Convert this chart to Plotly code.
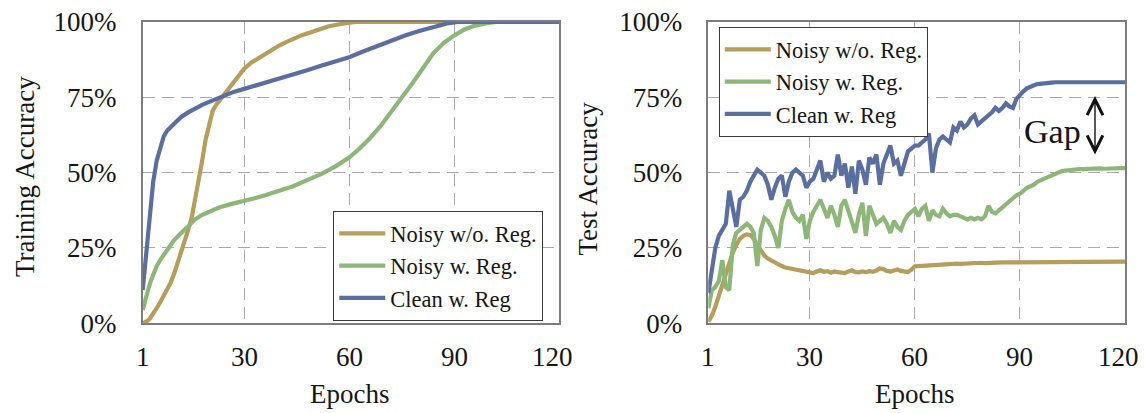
import plotly.graph_objects as go

# ---------------- data ----------------
series_names = ["Noisy w/o. Reg.", "Noisy w. Reg.", "Clean w. Reg"]
series_colors = ["#B59D5C", "#8DB679", "#5B6EA0"]

x_ticks = [1, 30, 60, 90, 120]
x_tick_labels = ["1", "30", "60", "90", "120"]
y_ticks = [0, 25, 50, 75, 100]
y_tick_labels = ["0%", "25%", "50%", "75%", "100%"]

# Training accuracy (left)
train_noisy_noreg_epochs = [1, 2, 3, 4, 5, 6, 7, 8, 9, 10, 11, 12, 13, 14, 15, 16, 17, 18, 19, 20,
                            21, 22, 23, 24, 25, 26, 27, 28, 30, 32, 34, 36, 38, 40, 42, 44, 46, 48,
                            50, 52, 54, 56, 58, 60, 62, 120]
train_noisy_noreg = [0, 0.5, 1.5, 3, 5, 7, 9, 11, 13.5, 16.5, 20, 23, 27, 31, 35, 41, 47, 54, 61, 66,
                     70.5, 72.5, 74, 75.5, 77.5, 79, 80.5, 82, 84.5, 86.5, 88, 89.5, 90.8, 92.2, 93.3,
                     94.4, 95.4, 96.2, 97, 97.7, 98.5, 99, 99.5, 99.8, 100, 100]

train_noisy_reg_epochs = [1, 2, 3, 4, 5, 6, 8, 10, 12, 14, 16, 18, 20, 23, 27, 30, 33, 36, 40, 44,
                          48, 52, 56, 60, 63, 66, 69, 72, 75, 78, 81, 84, 87, 90, 93, 96, 99, 102, 120]
train_noisy_reg = [4.4, 9, 13, 16, 19, 21, 24.5, 27.6, 30, 32.5, 34.5, 36, 37, 38.5, 39.8, 40.5, 41.5,
                   42.5, 44, 45.5, 47.5, 49.5, 52, 55, 58, 61.5, 65.5, 70, 74.5, 79.5, 84.5, 89.5, 93,
                   95.5, 97.5, 98.8, 99.5, 100, 100]

train_clean_reg_epochs = [1, 2, 3, 4, 5, 6, 7, 8, 10, 12, 14, 16, 18, 20, 22, 24, 27, 30, 33, 36, 40,
                          44, 48, 52, 56, 60, 64, 68, 72, 76, 80, 84, 88, 91, 120]
train_clean_reg = [11, 24, 37, 47, 54, 58.5, 62, 64, 66.5, 68.5, 70, 71.3, 72.5, 73.5, 74.5, 75.5,
                   76.8, 77.8, 78.8, 80, 81.3, 82.8, 84, 85.5, 86.8, 88.3, 90.2, 92, 93.8, 95.5, 97,
                   98.3, 99.5, 100, 100]

# Test accuracy (right), one value per epoch 1..120
test_epochs = list(range(1, 121))
test_noisy_noreg = [
    0.5, 2.5, 5.5, 9, 13, 17, 20.5, 23.5, 26, 28,
    29, 29.5, 29.3, 28, 26, 24, 22.5, 21.5, 20.8, 20,
    19.5, 19, 18.5, 18.3, 18.2, 17.9, 17.7, 17.5, 17.3, 17.0,
    16.7, 17.2, 17.6, 17.1, 17.3, 16.8, 17.2, 17.0, 16.8, 16.7,
    17.2, 17.6, 17.0, 16.9, 17.2, 17.0, 17.3, 17.1, 17.5, 18.2,
    18.0, 17.4, 17.2, 17.6, 17.9, 17.4, 17.3, 17.0, 17.8, 18.9,
    19.0, 19.1, 19.2, 19.3, 19.3, 19.4, 19.5, 19.5, 19.6, 19.6,
    19.7, 19.8, 19.7, 19.8, 19.9, 19.9, 20.0, 20.0, 20.1, 20.0,
    20.1, 20.1, 20.2, 20.1, 20.2, 20.2, 20.2, 20.3, 20.2, 20.3,
    20.3, 20.3, 20.3, 20.4, 20.3, 20.4, 20.4, 20.4, 20.4, 20.4,
    20.4, 20.4, 20.5, 20.4, 20.4, 20.5, 20.4, 20.5, 20.5, 20.4,
    20.5, 20.5, 20.5, 20.5, 20.5, 20.5, 20.5, 20.5, 20.5, 20.5,
]
test_noisy_reg = [
    5, 11, 12, 14, 21, 12, 11, 26, 30, 31,
    32, 33, 32, 30, 19, 31, 35, 34, 32, 29,
    25, 34, 38, 41, 37, 35, 34, 36, 28, 34,
    37, 39, 41, 38, 35, 39, 36, 32, 39, 41,
    37, 34, 30, 36, 40, 29, 39, 36, 33, 34,
    35, 33, 30, 34, 32, 31, 34, 36, 37, 38,
    35.5, 38, 39, 34, 37.5, 36, 35.5, 38, 36.5, 35.5,
    36, 36, 35.5, 35, 34.5, 35, 34.5, 35, 34.5, 35.5,
    39, 37, 36.5, 37.5, 38.5, 39.5, 40.5, 41.5, 42.5, 43,
    44, 45, 45.5, 46, 47, 47.5, 48.3, 48.8, 49.3, 49.8,
    50.2, 50.5, 50.7, 50.9, 51, 51.1, 51.2, 51.2, 51.3, 51.2,
    51.3, 51.3, 51.4, 51.3, 51.4, 51.4, 51.5, 51.4, 51.5, 51.5,
]
test_clean_reg = [
    10, 17, 25, 29, 31, 33, 44, 38, 32, 41,
    42, 44, 47, 49, 51, 50, 49, 46, 41, 45,
    48, 49, 42, 47, 50, 51, 50, 49, 45, 47,
    48, 51, 54, 47, 50, 48, 49, 56, 49, 53,
    45, 52, 43, 54, 51, 46, 55, 53, 56, 46,
    53, 56, 59, 53, 54, 49, 53, 57, 58, 59,
    59, 60, 61, 63, 50, 58, 61, 62, 61, 60,
    65, 64, 67, 65, 66, 68, 69, 66, 67, 68,
    69, 70, 71.5, 70.5, 71.5, 73, 72, 71.5, 74.5, 76,
    77, 78, 78.7, 79, 79.4, 79.6, 79.7, 79.8, 79.9, 80,
    80, 79.9, 80, 80.1, 80, 79.9, 80, 80, 80.1, 80,
    79.9, 80, 80, 80, 79.9, 80, 80, 80, 80, 80,
]

# ---------------- figure ----------------
W, H = 1144, 413
FONT = "Liberation Serif, Times New Roman, serif"
TXT = "#151515"

def px_x(p):
    return p / W

def px_y(p):
    return 1 - p / H

fig = go.Figure()

train_sets = [
    (train_noisy_noreg_epochs, train_noisy_noreg),
    (train_noisy_reg_epochs, train_noisy_reg),
    (train_clean_reg_epochs, train_clean_reg),
]
test_sets = [test_noisy_noreg, test_noisy_reg, test_clean_reg]

for name, color, (ex, ey) in zip(series_names, series_colors, train_sets):
    fig.add_trace(go.Scatter(x=ex, y=ey, mode="lines", name=name,
                             line=dict(color=color, width=4.2),
                             xaxis="x", yaxis="y", legend="legend"))
for name, color, ey in zip(series_names, series_colors, test_sets):
    fig.add_trace(go.Scatter(x=test_epochs, y=ey, mode="lines", name=name,
                             line=dict(color=color, width=4.2),
                             xaxis="x2", yaxis="y2", legend="legend2"))

grid = dict(showgrid=True, gridcolor="#a9a9a9", gridwidth=1.2, griddash="12px,7px",
            showline=True, linecolor="#7d7d7d", linewidth=1.5, mirror=True,
            zeroline=False, ticks="", automargin=False,
            tickfont=dict(family=FONT, size=27, color=TXT))

xdom1 = [px_x(142.7), px_x(559)]
xdom2 = [px_x(708.3), px_x(1125)]
ydom = [px_y(323.3), px_y(22)]

xcommon = dict(range=[1, 120], tickvals=x_ticks, ticktext=x_tick_labels,
               showticklabels=False, **grid)
ycommon = dict(range=[0, 100], tickvals=y_ticks, ticktext=y_tick_labels,
               ticklabelstandoff=19, **grid)

legend_common = dict(xanchor="left", yanchor="top", bgcolor="white",
                     bordercolor="#3a3a3a", borderwidth=1.3,
                     font=dict(family=FONT, size=22.5, color=TXT),
                     itemwidth=46, tracegroupgap=0)

fig.update_layout(
    template="none",
    width=W, height=H,
    margin=dict(l=0, r=0, t=0, b=0, autoexpand=False),
    paper_bgcolor="white", plot_bgcolor="white",
    showlegend=True,
    xaxis=dict(domain=xdom1, anchor="y", **xcommon),
    yaxis=dict(domain=ydom, anchor="x", **ycommon),
    xaxis2=dict(domain=xdom2, anchor="y2", **xcommon),
    yaxis2=dict(domain=ydom, anchor="x2", **ycommon),
    legend=dict(x=px_x(333), y=px_y(211), **legend_common),
    legend2=dict(x=px_x(718.5), y=px_y(27), **legend_common),
)

# x tick labels placed as text on each axis's own scale
for xref in ("x", "x2"):
    for val, lab in zip(x_ticks, x_tick_labels):
        fig.add_annotation(xref=xref, yref="paper", x=val, y=px_y(357),
                           text=lab, showarrow=False, xanchor="center", yanchor="middle",
                           xshift=(-7 if val == x_ticks[-1] else 0),
                           font=dict(family=FONT, size=27, color=TXT))

annotations = [
    dict(text="Training Accuracy", x=px_x(25), y=px_y(177), textangle=-90),
    dict(text="Test Accuracy", x=px_x(588), y=px_y(178.5), textangle=-90),
    dict(text="Epochs", x=px_x(349), y=px_y(394)),
    dict(text="Epochs", x=px_x(914), y=px_y(394)),
]
for a in annotations:
    fig.add_annotation(xref="paper", yref="paper", showarrow=False,
                       xanchor="center", yanchor="middle",
                       font=dict(family=FONT, size=27, color=TXT), **a)

fig.add_annotation(xref="paper", yref="paper", x=px_x(1052), y=px_y(131),
                   text="Gap", showarrow=False, xanchor="center", yanchor="middle",
                   font=dict(family=FONT, size=34, color=TXT))
fig.add_annotation(xref="paper", yref="paper", x=px_x(1095), y=px_y(96),
                   ax=0, ay=60, text="", showarrow=True,
                   arrowhead=5, startarrowhead=5, arrowside="end+start",
                   arrowsize=2.2, startarrowsize=2.2, arrowwidth=1.4, arrowcolor="#111111")

fig.write_html("out.html")
